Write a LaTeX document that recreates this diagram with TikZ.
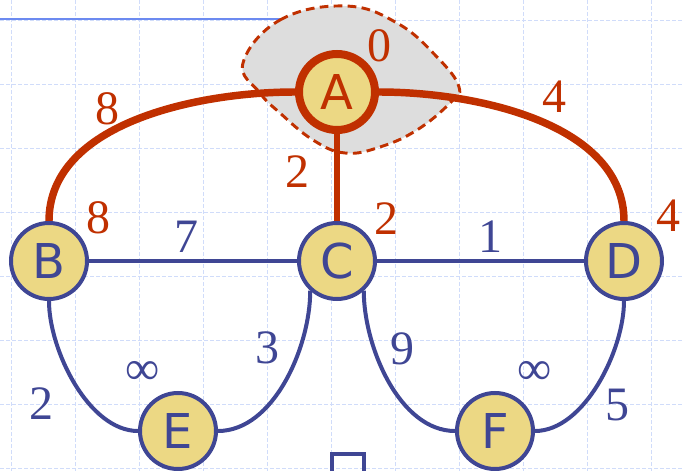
\documentclass[tikz,border=0pt]{standalone}
\usepackage{fontspec}
\setmainfont{Liberation Serif}
\newfontfamily\letterfont{DejaVu Sans}
\newfontfamily\numberfont{Liberation Serif}
\usetikzlibrary{backgrounds}
\definecolor{edgered}{RGB}{192,48,0}
\definecolor{edgeblue}{RGB}{63,70,148}
\definecolor{vfill}{RGB}{236,216,132}
\definecolor{gridblue}{RGB}{208,220,250}
\definecolor{topblue}{RGB}{108,138,240}
\definecolor{cloudgray}{RGB}{221,221,221}

\tikzset{
  vertex/.style={circle, draw=edgeblue, line width=3pt, fill=vfill, minimum size=57pt,
    inner sep=0pt, text=edgeblue, font=\letterfont\fontsize{36}{36}\selectfont},
  source/.style={vertex, draw=edgered, line width=6pt, text=edgered},
  weight/.style={inner sep=0pt, text=edgeblue, font=\numberfont\fontsize{36}{36}\selectfont},
  dist/.style={weight, text=edgered},
  gridline/.style={gridblue, line width=0.75pt, dash pattern=on 3pt off 1.5pt},
  plain/.style={edgeblue, line width=3pt},
  tree/.style={edgered, line width=5.6pt},
  cloud/.style={fill=cloudgray, draw=edgered, line width=2.2pt, dash pattern=on 6.5pt off 4pt}
}

\begin{document}
\begin{tikzpicture}[x=0.75pt, y=-0.75pt]
  \useasboundingbox (0,0) rectangle (683,471);
  \clip (0,0) rectangle (683,471);

  % vertices
  \node[source] (A) at (337,92) {A};
  \node[vertex] (B) at (49,261) {B};
  \node[vertex] (C) at (337,261) {C};
  \node[vertex] (D) at (624,261) {D};
  \node[vertex] (E) at (178,431) {E};
  \node[vertex] (F) at (495,431) {F};

  \begin{scope}[on background layer]
    % grid
    \foreach \gx in {11,75,...,651} \draw[gridline] (\gx,0) -- (\gx,471);
    \foreach \gy in {20,84,...,468} \draw[gridline] (0,\gy) -- (683,\gy);
    \draw[topblue, line width=2pt] (0,19) -- (281,19);

    % cloud round A
    \filldraw[cloud] plot[smooth cycle, tension=0.7] coordinates
      {(243,63) (280,20) (345,6) (397,23) (437,57) (459,87) (450,103)
       (417,130) (380,147) (345,153) (313,140) (280,113) (260,93)};

    % edges
    \draw[tree] (A.west) to[out=180, in=90, looseness=0.9] (B.north);
    \draw[tree] (A.east) to[out=0, in=90, looseness=0.9] (D.north);
    \draw[tree, line width=4.5pt] (A) -- (C);
    \draw[plain] (B) -- (C);
    \draw[plain] (C) -- (D);
    \draw[plain] (B.south) to[out=-90, in=180, looseness=0.8] (E.west);
    \draw[plain] (E.east) to[out=0, in=-90, looseness=0.85] (C.-132);
    \draw[plain] (C.-48) to[out=-90, in=180, looseness=0.85] (F.west);
    \draw[plain] (F.east) to[out=0, in=-90, looseness=0.8] (D.south);
  \end{scope}

  \draw[edgeblue, line width=3pt] (332,480) -- (332,454) -- (364,454) -- (364,480);

  % distances
  \node[dist] (dA) at (379,46) {0};
  \node[dist] (dB) at (98,218) {8};
  \node[dist] (dC) at (386,219) {2};
  \node[dist] (dD) at (668,216) {4};

  % weights
  \node[dist] (wAB) at (107,109) {8};
  \node[dist] (wAD) at (554,97) {4};
  \node[dist] (wAC) at (297,172) {2};
  \node[weight] (wBC) at (186,237) {7};
  \node[weight] (wCD) at (490,237) {1};
  \node[weight] (wBE) at (42,404) {2};
  \node[weight] (wCE) at (267,348) {3};
  \node[weight] (wCF) at (402,349) {9};
  \node[weight] (wDF) at (617,405) {5};
  \node[weight] (dE) at (143,373) {∞};
  \node[weight] (dF) at (535,373) {∞};
\end{tikzpicture}
\end{document}
